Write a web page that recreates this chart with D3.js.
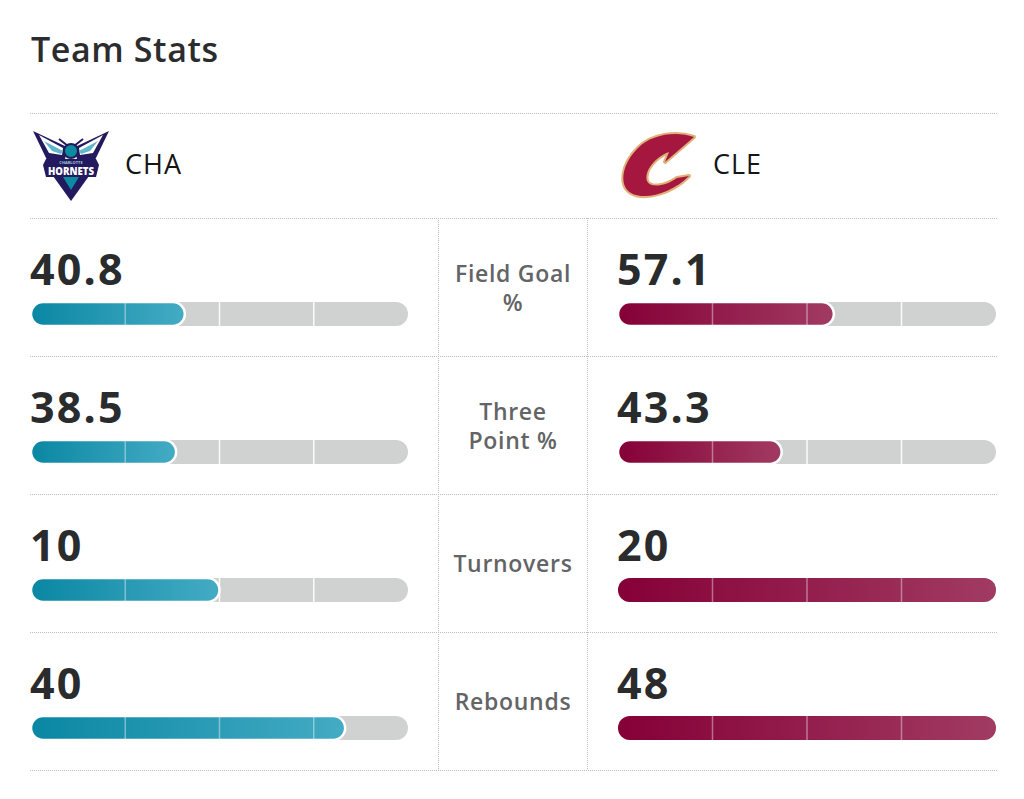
<!DOCTYPE html>
<html>
<head>
<meta charset="utf-8">
<script src="https://cdn.jsdelivr.net/npm/d3@7"></script>
<style>
  html, body { margin: 0; padding: 0; background: #fff; }
  svg { display: block; font-family: "Open Sans", "Noto Sans", sans-serif; }
</style>
</head>
<body>
<svg id="chart" width="1024" height="799"></svg>
<script>
// ---- data ----
const title = "Team Stats";
const teams = ["CHA", "CLE"];
const categories = ["Field Goal %", "Three Point %", "Turnovers", "Rebounds"];
const categoryLines = [["Field Goal", "%"], ["Three", "Point %"], ["Turnovers"], ["Rebounds"]];
const isPercent = [true, true, false, false];
const chaValues = [40.8, 38.5, 10, 40];
const cleValues = [57.1, 43.3, 20, 48];
const chaLabels = ["40.8", "38.5", "10", "40"];
const cleLabels = ["57.1", "43.3", "20", "48"];
const segmentTicks = [0.25, 0.5, 0.75];

// ---- layout ----
const svg = d3.select("#chart");
const left = 30, right = 997;
const headerTop = 113, rowsTop = 218, rowH = 138;
const midL = 438, midR = 587;
const barH = 24, barOffset = 84;
const side = [
  { x0: 31, x1: 408, vals: chaValues, labels: chaLabels, grad: "gCHA" },
  { x0: 618, x1: 996, vals: cleValues, labels: cleLabels, grad: "gCLE" }
];

const defs = svg.append("defs");
function grad(id, c0, c1) {
  const g = defs.append("linearGradient").attr("id", id)
    .attr("x1", "0%").attr("x2", "100%").attr("y1", "0%").attr("y2", "0%");
  g.append("stop").attr("offset", "0%").attr("stop-color", c0);
  g.append("stop").attr("offset", "100%").attr("stop-color", c1);
}
grad("gCHA", "#0a87a3", "#44abc4");
grad("gCLE", "#850037", "#a13b62");

// title
svg.append("text").attr("x", 31).attr("y", 62)
  .attr("font-size", 34).attr("font-weight", 600).attr("fill", "#2b2c2d")
  .attr("letter-spacing", 0.6)
  .text(title);

// dotted rules
const dot = { stroke: "#bdbdbd", dash: "1 1" };
const hLines = [headerTop, rowsTop].concat(categories.map((c, i) => rowsTop + rowH * (i + 1)));
svg.selectAll("line.h").data(hLines).join("line").attr("class", "h")
  .attr("x1", left).attr("x2", right)
  .attr("y1", d => d + 0.5).attr("y2", d => d + 0.5)
  .attr("stroke", dot.stroke).attr("stroke-dasharray", dot.dash);
svg.selectAll("line.v").data([midL, midR]).join("line").attr("class", "v")
  .attr("x1", d => d + 0.5).attr("x2", d => d + 0.5)
  .attr("y1", rowsTop).attr("y2", rowsTop + rowH * categories.length)
  .attr("stroke", dot.stroke).attr("stroke-dasharray", dot.dash);

// team headers
svg.append("text").attr("x", 125).attr("y", 174).attr("font-size", 27)
  .attr("font-weight", 500).attr("fill", "#151515").attr("letter-spacing", 1).text(teams[0]);
svg.append("text").attr("x", 713).attr("y", 174).attr("font-size", 27)
  .attr("font-weight", 500).attr("fill", "#151515").attr("letter-spacing", 1).text(teams[1]);

// Hornets logo (simplified)
const hl = svg.append("g").attr("transform", "translate(71,0)");
const purple = "#23195f", teal = "#0b8aa0";
[-1, 1].forEach(s => {
  const w = hl.append("g").attr("transform", `scale(${s},1)`);
  w.append("path").attr("d", "M-38,131 L-4,147 L-6,160 L-24,160 Z").attr("fill", purple);
  w.append("path").attr("d", "M-32,135 L-8,148 L-9,155 L-22,153 Z").attr("fill", "#ffffff");
  w.append("path").attr("d", "M-27,141 L-8,151 L-10,154 L-19,151 Z").attr("fill", "#5fb7c9");
  w.append("line").attr("x1", -3).attr("y1", 146).attr("x2", -12).attr("y2", 139)
    .attr("stroke", purple).attr("stroke-width", 2);
});
hl.append("ellipse").attr("cx", 0).attr("cy", 151).attr("rx", 7).attr("ry", 7).attr("fill", teal)
  .attr("stroke", purple).attr("stroke-width", 2);
hl.append("path").attr("d", "M-18,176 L18,176 L0,201 Z").attr("fill", purple);
hl.append("path").attr("d", "M-8,177 L8,177 L0,190 Z").attr("fill", teal);
hl.append("path").attr("d", "M-25,159 L25,159 L28,165 L25,177 L-25,177 L-28,165 Z").attr("fill", purple);
hl.append("text").attr("x", 0).attr("y", 163.5).attr("text-anchor", "middle")
  .attr("font-size", 4).attr("font-weight", 700).attr("fill", "#9fc9d6").text("CHARLOTTE");
hl.append("text").attr("x", 0).attr("y", 175).attr("text-anchor", "middle")
  .attr("font-size", 11).attr("font-weight", 800).attr("fill", "#ffffff")
  .attr("textLength", 46).attr("lengthAdjust", "spacingAndGlyphs").text("HORNETS");

// Cavaliers logo (simplified)
svg.append("path")
  .attr("d", "M694,137 C676,131 652,134 638,148 C621,165 619,186 631,193 C645,201 672,193 689,176 L677,178 C664,187 650,188 647,181 C644,171 655,157 669,152 L665,162 Z")
  .attr("fill", "#a5173f").attr("stroke", "#e0b27a").attr("stroke-width", 4)
  .attr("stroke-linejoin", "round").attr("paint-order", "stroke");

// rows
const rows = svg.selectAll("g.row").data(categories).join("g").attr("class", "row")
  .attr("transform", (d, i) => `translate(0,${rowsTop + rowH * i})`);

// category labels
rows.each(function(d, i) {
  const lines = categoryLines[i];
  const cy = rowH / 2 + 9 - (lines.length - 1) * 14.5;
  d3.select(this).selectAll("text.cat").data(lines).join("text").attr("class", "cat")
    .attr("x", (midL + midR) / 2 + 0.5).attr("y", (l, j) => cy + j * 29)
    .attr("text-anchor", "middle").attr("font-size", 23).attr("font-weight", 600)
    .attr("letter-spacing", 0.7).attr("fill", "#636466").text(l => l);
});

side.forEach(sd => {
  rows.each(function(d, i) {
    const g = d3.select(this);
    const max = isPercent[i] ? 100 : Math.max(chaValues[i], cleValues[i]);
    const x = d3.scaleLinear().domain([0, max]).range([sd.x0, sd.x1]);
    const v = sd.vals[i];
    g.append("text").attr("x", sd.x0 - 1).attr("y", 67)
      .attr("font-size", 43).attr("font-weight", 700).attr("fill", "#2a2b2c")
      .attr("letter-spacing", 2.2).text(sd.labels[i]);
    g.append("rect").attr("x", x(0)).attr("y", barOffset)
      .attr("width", x(max) - x(0)).attr("height", barH)
      .attr("rx", barH / 2).attr("fill", "#d0d1d1");
    const fillEnd = x(v);
    g.append("rect").attr("x", x(0)).attr("y", barOffset)
      .attr("width", fillEnd - x(0)).attr("height", barH)
      .attr("rx", barH / 2).attr("fill", `url(#${sd.grad})`)
      .attr("stroke", v < max ? "#ffffff" : "none").attr("stroke-width", 2.5);
    segmentTicks.forEach(t => {
      const tx = x(max * t);
      g.append("line").attr("x1", tx).attr("x2", tx)
        .attr("y1", barOffset).attr("y2", barOffset + barH)
        .attr("stroke", "#ffffff").attr("stroke-width", 1.5)
        .attr("stroke-opacity", tx < fillEnd ? 0.4 : 0.9);
    });
  });
});
</script>
</body>
</html>
